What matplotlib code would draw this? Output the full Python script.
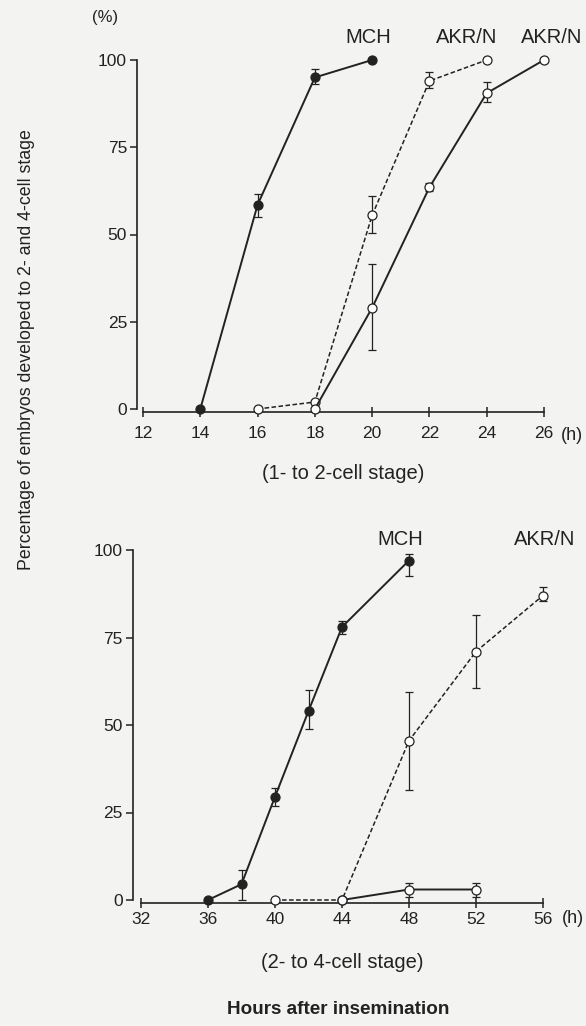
import numpy as np
import matplotlib.pyplot as plt

plt.rcParams['font.family'] = ['Liberation Sans', 'DejaVu Sans']

# top panel: 1- to 2-cell stage
top_mch_x = [14, 16, 18, 20]
top_mch_y = [0, 58.5, 95, 100]
top_mch_lo = [0, 3.5, 1.8, 0]
top_mch_hi = [0, 3.2, 2.3, 0]

top_akr_dash_x = [16, 18, 20, 22, 24]
top_akr_dash_y = [0, 2, 55.5, 94, 100]
top_akr_dash_lo = [0, 0, 5, 2, 0]
top_akr_dash_hi = [0, 0, 5.5, 2.6, 0]

top_akr_solid_x = [18, 20, 22, 24, 26]
top_akr_solid_y = [0, 29, 63.5, 90.5, 100]
top_akr_solid_lo = [0, 12, 1, 2.5, 0]
top_akr_solid_hi = [0, 12.5, 1.2, 3.3, 0]

# bottom panel: 2- to 4-cell stage
bot_mch_x = [36, 38, 40, 42, 44, 48]
bot_mch_y = [0, 4.5, 29.5, 54, 78, 97]
bot_mch_lo = [0, 4.5, 2.5, 5, 2, 4.5]
bot_mch_hi = [0, 4, 2.5, 6, 1.8, 2]

bot_akr_dash_x = [40, 44, 48, 52, 56]
bot_akr_dash_y = [0, 0, 45.5, 71, 87]
bot_akr_dash_lo = [0, 0, 14, 10.5, 1.5]
bot_akr_dash_hi = [0, 0, 14, 10.5, 2.5]

bot_akr_solid_x = [44, 48, 52]
bot_akr_solid_y = [0, 3, 3]
bot_akr_solid_lo = [0, 2.2, 2.2]
bot_akr_solid_hi = [0, 2, 2]

top_xticks = [12, 14, 16, 18, 20, 22, 24, 26]
bot_xticks = [32, 36, 40, 44, 48, 52, 56]
yticks = [0, 25, 50, 75, 100]

bg = '#f3f3f1'
ink = '#222222'

fig = plt.figure(figsize=(5.86, 10.26), dpi=100, facecolor=bg)


def series(ax, x, y, lo, hi, filled, dashed):
    ax.errorbar(x, y, yerr=[lo, hi], fmt='none', ecolor=ink, elinewidth=0.9,
                capsize=3, capthick=0.9, clip_on=False, zorder=2)
    ax.plot(x, y, color=ink, lw=1.4 if not dashed else 1.1,
            ls=(0, (3, 1.6)) if dashed else '-', marker='o', ms=6.5,
            mfc=ink if filled else 'white', mec=ink, mew=0.9,
            clip_on=False, zorder=3)


def style(ax, xlim, xticks, yoff, xpad, hpos):
    ax.set_facecolor(bg)
    ax.set_xlim(*xlim)
    ax.set_ylim(0, 100)
    for s in ['top', 'right']:
        ax.spines[s].set_visible(False)
    ax.spines['left'].set_position(('outward', yoff))
    ax.spines['bottom'].set_position(('outward', 2))
    for s in ['left', 'bottom']:
        ax.spines[s].set_color(ink)
        ax.spines[s].set_linewidth(1.2)
    ax.set_xticks(xticks)
    ax.set_yticks(yticks)
    ax.tick_params(axis='y', direction='out', length=5, width=1.1,
                   labelsize=12.5, colors=ink, pad=2)
    ax.tick_params(axis='x', direction='inout', length=7, width=1.1,
                   labelsize=12.5, colors=ink, pad=xpad)
    ax.text(hpos[0], hpos[1], '(h)', transform=ax.transAxes, ha='center',
            va='center', fontsize=13, color=ink)


ax1 = fig.add_axes([143 / 586, 1 - 409 / 1026, 401 / 586, 349 / 1026])
style(ax1, (12, 26), top_xticks, 4.5, 7, (1.07, -0.075))
series(ax1, top_mch_x, top_mch_y, top_mch_lo, top_mch_hi, True, False)
series(ax1, top_akr_dash_x, top_akr_dash_y, top_akr_dash_lo, top_akr_dash_hi, False, True)
series(ax1, top_akr_solid_x, top_akr_solid_y, top_akr_solid_lo, top_akr_solid_hi, False, False)
ax1.text(19.85, 106.5, 'MCH', ha='center', va='center', fontsize=14.5, color=ink)
ax1.text(23.3, 106.5, 'AKR/N', ha='center', va='center', fontsize=14.5, color=ink)
ax1.text(26.25, 106.5, 'AKR/N', ha='center', va='center', fontsize=14.5, color=ink)
ax1.text(-0.095, 1.123, '(%)', transform=ax1.transAxes, ha='center',
         va='center', fontsize=12, color=ink)
ax1.text(0.5, -0.185, '(1- to 2-cell stage)', transform=ax1.transAxes,
         ha='center', va='center', fontsize=14.5, color=ink)

ax2 = fig.add_axes([141 / 586, 1 - 900 / 1026, 402 / 586, 350 / 1026])
style(ax2, (32, 56), bot_xticks, 6, 3, (1.075, -0.052))
series(ax2, bot_mch_x, bot_mch_y, bot_mch_lo, bot_mch_hi, True, False)
series(ax2, bot_akr_dash_x, bot_akr_dash_y, bot_akr_dash_lo, bot_akr_dash_hi, False, True)
series(ax2, bot_akr_solid_x, bot_akr_solid_y, bot_akr_solid_lo, bot_akr_solid_hi, False, False)
ax2.text(47.45, 103, 'MCH', ha='center', va='center', fontsize=14.5, color=ink)
ax2.text(56.1, 103, 'AKR/N', ha='center', va='center', fontsize=14.5, color=ink)
ax2.text(0.5, -0.18, '(2- to 4-cell stage)', transform=ax2.transAxes,
         ha='center', va='center', fontsize=14.5, color=ink)

fig.text(338 / 586, 1 - 1010 / 1026, 'Hours after insemination', ha='center',
         va='center', fontsize=13.6, fontweight='bold', color=ink)
fig.text(27 / 586, 1 - 350 / 1026,
         'Percentage of embryos developed to 2- and 4-cell stage',
         rotation=90, ha='center', va='center', fontsize=12.8, color=ink)

fig.savefig('out.png', dpi=100, facecolor=bg)
